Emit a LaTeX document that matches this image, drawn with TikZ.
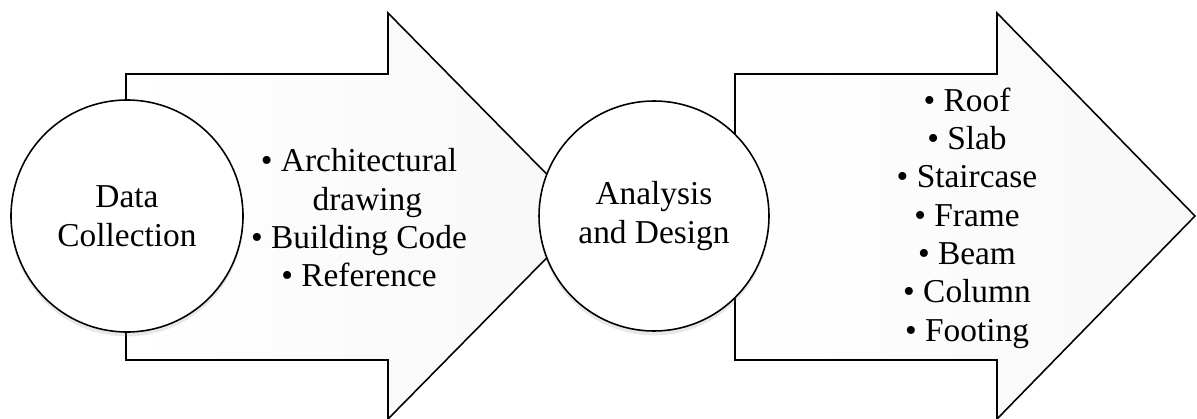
\documentclass[tikz,border=0pt]{standalone}
\usepackage{fontspec}
\setmainfont{Liberation Serif}
\usepackage{tikz}
\usetikzlibrary{shadows}

\tikzset{
  stage/.style={circle, draw, line width=0.9pt, fill=white, minimum size=4.64cm,
    align=center, font=\fontsize{19}{22.5}\selectfont,
    drop shadow={opacity=0.18, shadow xshift=0pt, shadow yshift=-2.5pt}},
  bigarrow/.style={draw, line width=0.9pt, left color=white, right color=gray!6},
  items/.style={align=center, font=\fontsize{19}{21.8}\selectfont}
}

\begin{document}
\begin{tikzpicture}
\useasboundingbox (0,0) rectangle (23.94,8.36);

% first arrow
\draw[bigarrow] (2.52,6.88)--(7.76,6.88)--(7.76,8.10)--(11.76,4.04)--(7.76,-0.02)--(7.76,1.16)--(2.52,1.16)--cycle;
\node[items] (collect) at (7.18,4.00) {• Architectural\\\hspace*{0.5em}drawing\\• Building Code\\• Reference};

% second arrow
\draw[bigarrow] (14.70,6.88)--(19.94,6.88)--(19.94,8.10)--(23.90,4.04)--(19.94,-0.02)--(19.94,1.16)--(14.70,1.16)--cycle;
\node[items] (design) at (19.34,4.00) {• Roof\\• Slab\\• Staircase\\• Frame\\• Beam\\• Column\\• Footing};

% stages
\node[stage] (data) at (2.54,4.04) {Data\\Collection};
\node[stage, minimum size=4.6cm] (analysis) at (13.08,4.04) {Analysis\\and Design};

\end{tikzpicture}
\end{document}
